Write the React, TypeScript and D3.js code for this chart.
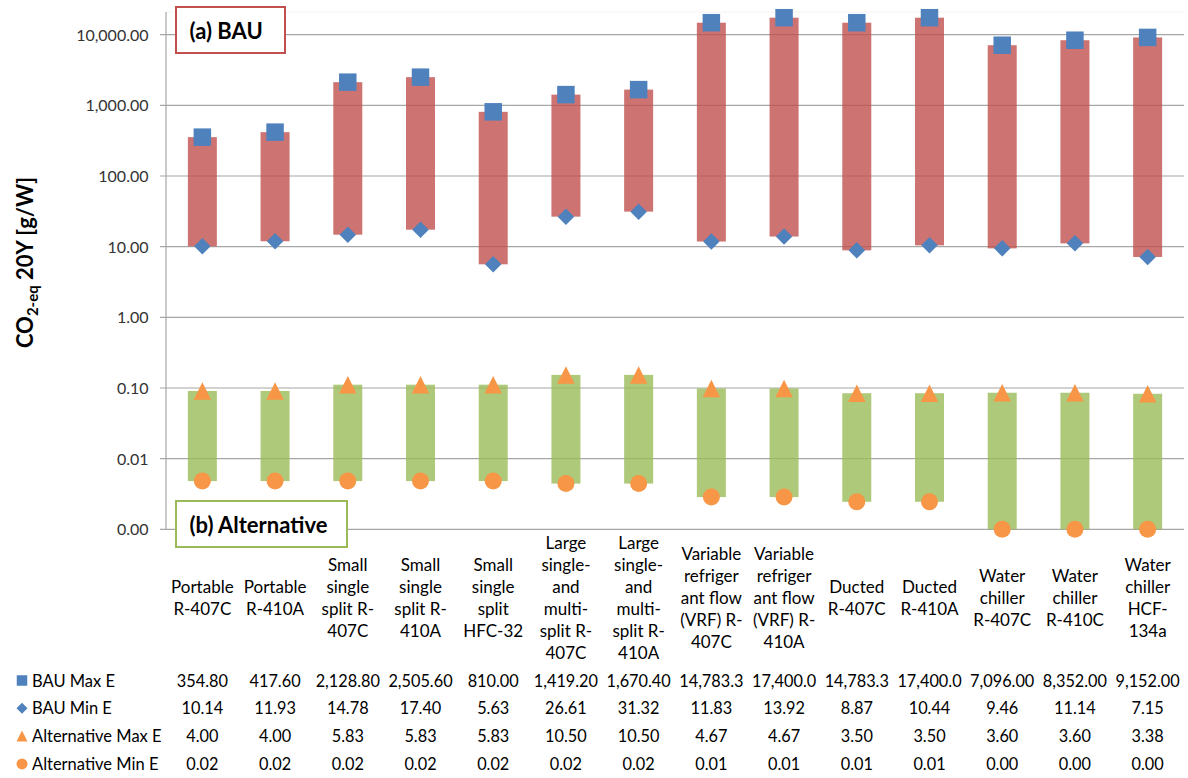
import React, { useEffect } from "react";
import * as d3 from "d3";

// ---------- data ----------
const categoryLines: string[][] = [
  ["Portable", "R-407C"],
  ["Portable", "R-410A"],
  ["Small", "single", "split R-", "407C"],
  ["Small", "single", "split R-", "410A"],
  ["Small", "single", "split", "HFC-32"],
  ["Large", "single-", "and", "multi-", "split R-", "407C"],
  ["Large", "single-", "and", "multi-", "split R-", "410A"],
  ["Variable", "refriger", "ant flow", "(VRF) R-", "407C"],
  ["Variable", "refriger", "ant flow", "(VRF) R-", "410A"],
  ["Ducted", "R-407C"],
  ["Ducted", "R-410A"],
  ["Water", "chiller", "R-407C"],
  ["Water", "chiller", "R-410C"],
  ["Water", "chiller", "HCF-", "134a"],
];
const bauMax = [354.8, 417.6, 2128.8, 2505.6, 810.0, 1419.2, 1670.4, 14783.33, 17400.0, 14783.33, 17400.0, 7096.0, 8352.0, 9152.0];
const bauMin = [10.14, 11.93, 14.78, 17.4, 5.63, 26.61, 31.32, 11.83, 13.92, 8.87, 10.44, 9.46, 11.14, 7.15];
const altMax = [4.0, 4.0, 5.83, 5.83, 5.83, 10.5, 10.5, 4.67, 4.67, 3.5, 3.5, 3.6, 3.6, 3.38];
const altMin = [0.018, 0.018, 0.018, 0.018, 0.018, 0.0155, 0.0155, 0.0069, 0.0069, 0.0052, 0.0052, 0.001, 0.001, 0.001];
const seriesNames = ["BAU Max E", "BAU Min E", "Alternative Max E", "Alternative Min E"];
const yTicks = [0.001, 0.01, 0.1, 1, 10, 100, 1000, 10000];

// ---------- layout ----------
const W = 1188, H = 778;
const plotLeft = 166, plotRight = 1184, plotTop = 12;
const yBottomPx = 529.3, yTopTickPx = 34.7;
const altDecadePx = 38.4;
const barW = 29;
const FONT = "Lato, 'Open Sans', 'Noto Sans', sans-serif";
const BLUE = "#4F81BD", ORANGE = "#F79646", RED = "#C0504D", GREEN = "#9BBB59";

const fmt2 = d3.format(",.2f");
const fmt1 = d3.format(",.1f");
const fmtVal = (v: number) => (v >= 10000 ? fmt1(v) : fmt2(v));

function Marker({ kind, x, y, s }: { kind: number; x: number; y: number; s: number }) {
  if (kind === 0) {
    return <rect x={x - s / 2} y={y - s / 2} width={s} height={s} fill={BLUE} />;
  }
  if (kind === 1) {
    const h = s / 2;
    return <path d={`M${x},${y - h}L${x + h},${y}L${x},${y + h}L${x - h},${y}Z`} fill={BLUE} />;
  }
  if (kind === 2) {
    const h = s / 2;
    return <path d={`M${x},${y - h}L${x + h},${y + h}L${x - h},${y + h}Z`} fill={ORANGE} />;
  }
  return <circle cx={x} cy={y} r={s / 2} fill={ORANGE} />;
}

export default function App() {
  useEffect(() => {
    document.body.style.margin = "0";
  }, []);

  const idx = categoryLines.map((_, i) => String(i));
  const x = d3.scaleBand<string>().domain(idx).range([plotLeft, plotRight]).padding(0);
  const y = d3.scaleLog().domain([0.001, 10000]).range([yBottomPx, yTopTickPx]);
  // hidden secondary log axis used by the alternative series
  const y2 = d3.scaleLog().domain([0.001, 1]).range([yBottomPx, yBottomPx - 3 * altDecadePx]);
  const cx = (i: number) => (x(String(i)) as number) + x.bandwidth() / 2;

  const rowBase = [686.5, 714.3, 742.1, 769.9];
  const rowValues = [bauMax, bauMin, altMax, altMin];

  return (
    <svg width={W} height={H} style={{ display: "block", background: "#fff" }} fontFamily={FONT}>
      <line x1={plotLeft} x2={plotRight} y1={plotTop} y2={plotTop} stroke="#f2f2f2" />
      {yTicks.map((t) => (
        <line key={"g" + t} x1={plotLeft - 6} x2={plotRight} y1={y(t)} y2={y(t)} stroke="#a6a6a6" strokeWidth={1.2} />
      ))}
      <line x1={plotLeft} x2={plotLeft} y1={plotTop} y2={yBottomPx} stroke="#a6a6a6" strokeWidth={1.2} />
      {yTicks.map((t) => (
        <text key={"t" + t} x={148.5} y={y(t) + 6} textAnchor="end" fontSize={16} fill="#333">
          {fmt2(t)}
        </text>
      ))}
      <text transform={`translate(33,262.5) rotate(-90)`} textAnchor="middle" fontSize={22} fontWeight="bold" fill="#000">
        <tspan>CO</tspan>
        <tspan fontSize={15} dy={5}>2-eq</tspan>
        <tspan dy={-5}> 20Y [g/W]</tspan>
      </text>

      {bauMax.map((v, i) => (
        <rect key={"rb" + i} x={cx(i) - barW / 2} y={y(v)} width={barW} height={y(bauMin[i]) - y(v)} fill={RED} fillOpacity={0.8} />
      ))}
      {altMax.map((v, i) => (
        <rect key={"gb" + i} x={cx(i) - barW / 2} y={y2(v)} width={barW} height={y2(altMin[i]) - y2(v)} fill={GREEN} fillOpacity={0.8} />
      ))}
      {bauMax.map((v, i) => <Marker key={"m0" + i} kind={0} x={cx(i)} y={y(v)} s={17.5} />)}
      {bauMin.map((v, i) => <Marker key={"m1" + i} kind={1} x={cx(i)} y={y(v)} s={16.5} />)}
      {altMax.map((v, i) => <Marker key={"m2" + i} kind={2} x={cx(i)} y={y2(v)} s={17.5} />)}
      {altMin.map((v, i) => <Marker key={"m3" + i} kind={3} x={cx(i)} y={y2(v)} s={17} />)}

      <rect x={176} y={7} width={109} height={46} fill="#fff" stroke={RED} strokeWidth={2} />
      <text x={189.5} y={39} fontSize={22} fontWeight="bold" fill="#000">(a) BAU</text>
      <rect x={176} y={501} width={171} height={46} fill="#fff" stroke={GREEN} strokeWidth={2} />
      <text x={189.5} y={532.5} fontSize={22} fontWeight="bold" fill="#000">(b) Alternative</text>

      {categoryLines.map((lines, i) => (
        <text key={"c" + i} textAnchor="middle" fontSize={17} fill="#000">
          {lines.map((ln, j) => (
            <tspan key={j} x={cx(i)} y={604 - (lines.length - 1) * 11 + j * 22}>
              {ln}
            </tspan>
          ))}
        </text>
      ))}

      {seriesNames.map((name, r) => (
        <g key={"row" + r}>
          <Marker kind={r} x={22} y={rowBase[r] - 6} s={r === 0 ? 10.5 : 11} />
          <text x={32} y={rowBase[r]} fontSize={16.5} fill="#000">{name}</text>
          {rowValues[r].map((v, i) => (
            <text key={i} x={cx(i)} y={rowBase[r]} textAnchor="middle" fontSize={16.3} fill="#000">
              {fmtVal(v)}
            </text>
          ))}
        </g>
      ))}
    </svg>
  );
}
